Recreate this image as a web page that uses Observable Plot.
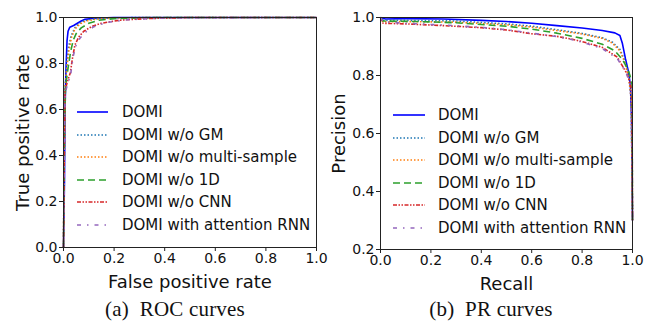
<!DOCTYPE html>
<html><head><meta charset="utf-8">
<script src="https://cdn.jsdelivr.net/npm/d3@7"></script>
<script src="https://cdn.jsdelivr.net/npm/@observablehq/plot@0.6"></script>
<style>
body{margin:0;background:#fff;}
#wrap{position:relative;width:657px;height:322px;overflow:hidden;background:#fff;font-family:"DejaVu Sans",sans-serif;}
.panel{position:absolute;top:0;}
.cap{position:absolute;top:299px;line-height:21px;font-family:"Liberation Serif","DejaVu Serif",serif;font-size:21px;letter-spacing:0.2px;color:#111;white-space:nowrap;transform:translateX(-50%);}
.leg{position:absolute;font-size:15px;color:#111;}
.row{position:absolute;left:0;display:flex;align-items:center;height:20px;white-space:nowrap;}
.row svg{display:block;}
</style></head>
<body><div id="wrap"></div>
<script>
const seriesNames = ["DOMI","DOMI w/o GM","DOMI w/o multi-sample","DOMI w/o 1D","DOMI w/o CNN","DOMI with attention RNN"];
const seriesColors = ["#0000ff","#1f77b4","#ff7f0e","#2ca02c","#d62728","#9467bd"];
const seriesDash = [null,"1.5 2","1.5 2","7 4","4 1.5 1.5 1.5 1.5 1.5","4 6 1.5 6"];

const rocTicksX = [0,0.2,0.4,0.6,0.8,1.0];
const rocTicksY = [0,0.2,0.4,0.6,0.8,1.0];
const prTicksX = [0,0.2,0.4,0.6,0.8,1.0];
const prTicksY = [0.2,0.4,0.6,0.8,1.0];

// ROC curves: [false positive rate, true positive rate]
const rocDomi = [[0,0],[0.004,0.3],[0.006,0.6],[0.01,0.78],[0.014,0.9],[0.018,0.94],[0.025,0.958],[0.04,0.965],[0.055,0.975],[0.07,0.985],[0.085,0.992],[0.12,0.997],[0.2,1],[1,1]];
const rocNoGm = [[0,0],[0.004,0.5],[0.007,0.7],[0.012,0.8],[0.02,0.87],[0.03,0.92],[0.045,0.955],[0.06,0.972],[0.08,0.985],[0.11,0.992],[0.16,0.997],[0.3,1],[1,1]];
const rocNoMulti = [[0,0],[0.004,0.5],[0.007,0.7],[0.014,0.79],[0.022,0.86],[0.032,0.915],[0.045,0.95],[0.065,0.972],[0.09,0.985],[0.13,0.993],[0.2,0.998],[0.35,1],[1,1]];
const rocNo1d = [[0,0],[0.004,0.5],[0.008,0.7],[0.018,0.78],[0.028,0.85],[0.038,0.9],[0.05,0.93],[0.07,0.955],[0.1,0.975],[0.14,0.988],[0.2,0.995],[0.35,1],[1,1]];
const rocNoCnn = [[0,0],[0.003,0.4],[0.006,0.68],[0.015,0.72],[0.027,0.76],[0.035,0.82],[0.045,0.88],[0.06,0.915],[0.08,0.94],[0.11,0.96],[0.15,0.975],[0.22,0.988],[0.32,0.995],[0.5,1],[1,1]];
const rocAttn = [[0,0],[0.003,0.4],[0.006,0.67],[0.016,0.71],[0.028,0.75],[0.038,0.83],[0.05,0.88],[0.065,0.91],[0.085,0.935],[0.12,0.96],[0.17,0.978],[0.25,0.99],[0.4,0.998],[0.8,1]];

// PR curves: [recall, precision]
const prDomi = [[0,1],[0.02,0.995],[0.1,0.996],[0.25,0.995],[0.4,0.99],[0.5,0.986],[0.6,0.98],[0.7,0.972],[0.8,0.964],[0.88,0.955],[0.93,0.947],[0.95,0.938],[0.96,0.91],[0.972,0.858],[0.985,0.81],[0.992,0.76],[0.996,0.656],[1,0.3]];
const prNoGm = [[0,1],[0.01,0.99],[0.1,0.99],[0.3,0.988],[0.5,0.978],[0.6,0.97],[0.7,0.958],[0.8,0.945],[0.88,0.93],[0.92,0.915],[0.95,0.89],[0.97,0.85],[0.985,0.8],[0.995,0.72],[1,0.3]];
const prNoMulti = [[0,1],[0.01,0.985],[0.1,0.986],[0.3,0.984],[0.5,0.975],[0.6,0.967],[0.7,0.955],[0.8,0.943],[0.88,0.928],[0.92,0.912],[0.95,0.885],[0.97,0.845],[0.985,0.79],[0.995,0.72],[1,0.3]];
const prNo1d = [[0,1],[0.01,0.988],[0.15,0.986],[0.3,0.982],[0.5,0.97],[0.6,0.96],[0.7,0.946],[0.8,0.928],[0.88,0.908],[0.93,0.885],[0.96,0.855],[0.98,0.825],[0.99,0.8],[0.998,0.77],[1,0.3]];
const prNoCnn = [[0,1],[0.01,0.98],[0.1,0.978],[0.25,0.972],[0.4,0.965],[0.5,0.957],[0.6,0.944],[0.7,0.935],[0.75,0.927],[0.8,0.917],[0.88,0.897],[0.94,0.863],[0.978,0.806],[0.99,0.775],[0.998,0.74],[1,0.3]];
const prAttn = [[0,1],[0.01,0.985],[0.1,0.98],[0.25,0.974],[0.4,0.966],[0.5,0.958],[0.6,0.946],[0.7,0.934],[0.75,0.926],[0.8,0.915],[0.88,0.893],[0.94,0.858],[0.975,0.81],[0.99,0.77],[0.998,0.74],[1,0.3]];

const rocSeries = [rocDomi, rocNoGm, rocNoMulti, rocNo1d, rocNoCnn, rocAttn];
const prSeries = [prDomi, prNoGm, prNoMulti, prNo1d, prNoCnn, prAttn];

function curveMarks(series) {
  return series.map((pts, i) => Plot.line(pts, {
    x: d => d[0], y: d => d[1],
    stroke: seriesColors[i], strokeWidth: 1.6,
    strokeDasharray: seriesDash[i] || undefined,
    strokeLinecap: "butt", strokeLinejoin: "round"
  }));
}

function makePlot(o) {
  return Plot.plot({
    width: o.width, height: 290,
    marginLeft: o.ml, marginRight: o.mr, marginTop: 17, marginBottom: o.mb,
    style: {fontFamily: "DejaVu Sans, sans-serif", fontSize: "14px", color: "#111", background: "white", overflow: "visible"},
    x: {domain: [0, 1]},
    y: {domain: o.ydomain},
    marks: [
      ...curveMarks(o.series),
      Plot.frame({stroke: "#222", strokeWidth: 1}),
      Plot.axisX({ticks: o.xticks, tickFormat: d => d.toFixed(1), tickSize: 4, tickPadding: 2, label: null, fontSize: 14, stroke: "#222"}),
      Plot.axisY({ticks: o.yticks, tickFormat: d => d.toFixed(1), tickSize: 4, tickPadding: 2, label: null, fontSize: 14, stroke: "#222"}),
      Plot.text([o.xlabel], {text: d => d, frameAnchor: "bottom", textAnchor: "middle", lineAnchor: "middle", dy: o.xdy, fontSize: 18, fill: "#111"}),
      Plot.text([o.ylabel], {text: d => d, frameAnchor: "left", textAnchor: "middle", lineAnchor: "middle", dx: o.ydx, rotate: -90, fontSize: 18, fill: "#111"})
    ]
  });
}

const wrap = document.getElementById("wrap");

function addPanel(left, plot) {
  const p = document.createElement("div");
  p.className = "panel"; p.style.left = left + "px";
  p.appendChild(plot);
  wrap.appendChild(p);
}

addPanel(0, makePlot({width: 328, ml: 63, mr: 12, mb: 43, series: rocSeries, ydomain: [0, 1],
  xticks: rocTicksX, yticks: rocTicksY, xlabel: "False positive rate", ylabel: "True positive rate", xdy: 35, ydx: -40}));
addPanel(328, makePlot({width: 329, ml: 52, mr: 25, mb: 41, series: prSeries, ydomain: [0.2, 1],
  xticks: prTicksX, yticks: prTicksY, xlabel: "Recall", ylabel: "Precision", xdy: 35, ydx: -41}));

function addLegend(left, top, lineW, gap, spacing) {
  const lg = document.createElement("div");
  lg.className = "leg"; lg.style.left = left + "px"; lg.style.top = top + "px";
  seriesNames.forEach((name, i) => {
    const r = document.createElement("div");
    r.className = "row"; r.style.top = (i * spacing) + "px";
    const s = d3.create("svg").attr("width", lineW).attr("height", 20);
    s.append("line").attr("x1", 0).attr("x2", lineW).attr("y1", 10).attr("y2", 10)
      .attr("stroke", seriesColors[i]).attr("stroke-width", 1.6)
      .attr("stroke-dasharray", seriesDash[i]);
    r.appendChild(s.node());
    const t = document.createElement("span");
    t.textContent = name; t.style.marginLeft = gap + "px";
    r.appendChild(t);
    lg.appendChild(r);
  });
  wrap.appendChild(lg);
}
addLegend(77, 102, 31, 14, 22.5);
addLegend(393, 105, 32, 13, 22.5);

function addCaption(cx, text) {
  const c = document.createElement("div");
  c.className = "cap"; c.style.left = cx + "px"; c.textContent = text;
  wrap.appendChild(c);
}
addCaption(175, "(a)\u2002ROC curves");
addCaption(491, "(b)\u2002PR curves");
</script>
</body></html>
